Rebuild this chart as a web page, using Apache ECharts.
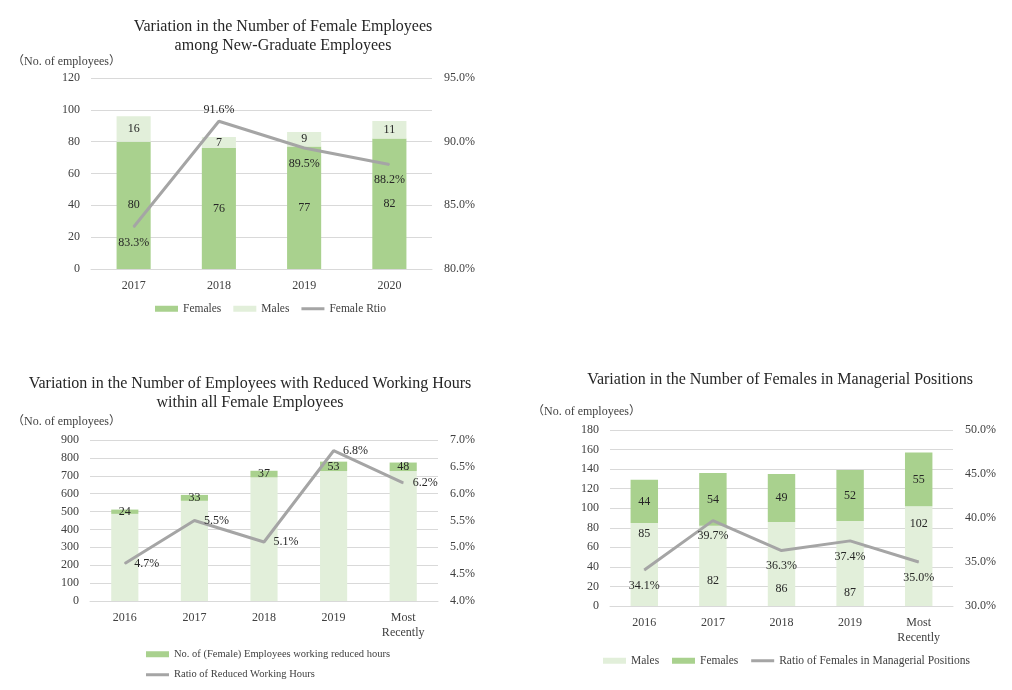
<!DOCTYPE html>
<html>
<head>
<meta charset="utf-8">
<script src="https://cdn.jsdelivr.net/npm/echarts@6/dist/echarts.min.js"></script>
<style>
html,body{margin:0;padding:0;background:#fff;}
#c{width:1012px;height:690px;}
</style>
</head>
<body>
<div id="c"></div>
<script>
// ---- Chart 1 data ----
const c1Categories = ['2017', '2018', '2019', '2020'];
const c1Females = [80, 76, 77, 82];
const c1Males = [16, 7, 9, 11];
const c1Ratio = [83.3, 91.6, 89.5, 88.2];

// ---- Chart 2 data ----
const c2Categories = ['2016', '2017', '2018', '2019', 'Most\nRecently'];
const c2Others = [487, 560, 691, 726, 726];
const c2Reduced = [24, 33, 37, 53, 48];
const c2Ratio = [4.7, 5.5, 5.1, 6.8, 6.2];

// ---- Chart 3 data ----
const c3Categories = ['2016', '2017', '2018', '2019', 'Most\nRecently'];
const c3Males = [85, 82, 86, 87, 102];
const c3Females = [44, 54, 49, 52, 55];
const c3Ratio = [34.1, 39.7, 36.3, 37.4, 35.0];

// label layout (not data)
const c1RatioLabelPos = ['bottom', 'top', 'bottom', 'bottom'];
const c3MalesLabelPos = [['insideTop', 5], ['insideBottom', 19], ['insideBottom', 11], ['insideBottom', 7], ['insideTop', 12]];

const FONT = "'Liberation Serif', 'Times New Roman', 'Noto Sans CJK JP', serif";
const TXT = '#404040';
const DARK = '#a9d18e';
const LIGHT = '#e2efda';
const GRAY = '#a5a5a5';
const GRID = '#d9d9d9';
const LINE_ICON = 'path://M0,0h23v3h-23z';

const chart = echarts.init(document.getElementById('c'));

function xAx(gridIndex, data) {
  return {
    type: 'category', gridIndex, data,
    axisLine: { lineStyle: { color: GRID, width: 1 } },
    axisTick: { show: false },
    axisLabel: { color: TXT, fontFamily: FONT, fontSize: 12, margin: 9, lineHeight: 15 }
  };
}
function yLeft(gridIndex, min, max, interval) {
  return {
    type: 'value', gridIndex, min, max, interval, position: 'left',
    axisLine: { show: false }, axisTick: { show: false },
    splitLine: { lineStyle: { color: GRID, width: 1 } },
    axisLabel: { color: TXT, fontFamily: FONT, fontSize: 12, margin: 11 }
  };
}
function yRight(gridIndex, min, max, interval) {
  return {
    type: 'value', gridIndex, min, max, interval, position: 'right',
    axisLine: { show: false }, axisTick: { show: false },
    splitLine: { show: false },
    axisLabel: { color: TXT, fontFamily: FONT, fontSize: 12, margin: 12,
      formatter: v => v.toFixed(1) + '%' }
  };
}
const lblStyle = { color: '#262626', fontFamily: FONT, fontSize: 12 };

const option = {
  animation: false,
  textStyle: { fontFamily: FONT },
  grid: [
    { left: 91, top: 78, width: 341, height: 191 },
    { left: 90, top: 440, width: 348, height: 161 },
    { left: 610, top: 430, width: 343, height: 176 }
  ],
  xAxis: [xAx(0, c1Categories), xAx(1, c2Categories), xAx(2, c3Categories)],
  yAxis: [
    yLeft(0, 0, 120, 20), yRight(0, 80, 95, 5),
    yLeft(1, 0, 900, 100), yRight(1, 4, 7, 0.5),
    yLeft(2, 0, 180, 20), yRight(2, 30, 50, 5)
  ],
  legend: [
    {
      left: 155, top: 303, padding: 0, itemWidth: 23, itemHeight: 6, itemGap: 12,
      textStyle: { color: TXT, fontFamily: FONT, fontSize: 11.5 },
      data: [{ name: 'Females', icon: 'rect' }, { name: 'Males', icon: 'rect' }, { name: 'Female Rtio', icon: LINE_ICON }]
    },
    {
      left: 146, top: 649, padding: 0, orient: 'vertical', itemWidth: 23, itemHeight: 6, itemGap: 10,
      textStyle: { color: TXT, fontFamily: FONT, fontSize: 10.5 },
      data: [{ name: 'No. of (Female) Employees working reduced hours', icon: 'rect' }, { name: 'Ratio of Reduced Working Hours', icon: LINE_ICON }]
    },
    {
      left: 603, top: 655, padding: 0, itemWidth: 23, itemHeight: 6, itemGap: 10,
      textStyle: { color: TXT, fontFamily: FONT, fontSize: 11.5 },
      data: [{ name: 'Males ', icon: 'rect' }, { name: 'Females ', icon: 'rect' }, { name: 'Ratio of Females in Managerial Positions', icon: LINE_ICON }]
    }
  ],
  graphic: [
    { type: 'text', x: 283, y: 17, style: { text: 'Variation in the Number of Female Employees\namong New-Graduate Employees', fill: '#262626', font: '16px ' + FONT, align: 'center', lineHeight: 19 } },
    { type: 'text', x: 12, y: 56, style: { text: '（No. of employees）', fill: TXT, font: '12px ' + FONT } },
    { type: 'text', x: 250, y: 374, style: { text: 'Variation in the Number of Employees with Reduced Working Hours\nwithin all Female Employees', fill: '#262626', font: '16px ' + FONT, align: 'center', lineHeight: 19 } },
    { type: 'text', x: 12, y: 416, style: { text: '（No. of employees）', fill: TXT, font: '12px ' + FONT } },
    { type: 'text', x: 780, y: 370, style: { text: 'Variation in the Number of Females in Managerial Positions', fill: '#262626', font: '16px ' + FONT, align: 'center', lineHeight: 19 } },
    { type: 'text', x: 532, y: 406, style: { text: '（No. of employees）', fill: TXT, font: '12px ' + FONT } }
  ],
  series: [
    // chart 1
    { name: 'Females', type: 'bar', xAxisIndex: 0, yAxisIndex: 0, stack: 's1', barWidth: '40%',
      data: c1Females, itemStyle: { color: DARK },
      label: Object.assign({ show: true, position: 'inside' }, lblStyle) },
    { name: 'Males', type: 'bar', xAxisIndex: 0, yAxisIndex: 0, stack: 's1', barWidth: '40%',
      data: c1Males, itemStyle: { color: LIGHT },
      label: Object.assign({ show: true, position: 'inside' }, lblStyle) },
    { name: 'Female Rtio', type: 'line', xAxisIndex: 0, yAxisIndex: 1,
      data: c1Ratio.map((v, i) => ({ value: v, label: { position: c1RatioLabelPos[i], distance: c1RatioLabelPos[i] === 'top' ? 5 : 9 } })),
      symbol: 'circle', symbolSize: 1, itemStyle: { color: GRAY }, lineStyle: { color: GRAY, width: 3 },
      label: Object.assign({ show: true, formatter: p => p.value.toFixed(1) + '%' }, lblStyle) },
    // chart 2
    { name: 'Others', type: 'bar', xAxisIndex: 1, yAxisIndex: 2, stack: 's2', barWidth: '39%',
      data: c2Others, itemStyle: { color: LIGHT } },
    { name: 'No. of (Female) Employees working reduced hours', type: 'bar', xAxisIndex: 1, yAxisIndex: 2, stack: 's2', barWidth: '39%',
      data: c2Reduced, itemStyle: { color: DARK },
      label: Object.assign({ show: true, position: 'inside' }, lblStyle) },
    { name: 'Ratio of Reduced Working Hours', type: 'line', xAxisIndex: 1, yAxisIndex: 3,
      data: c2Ratio, symbol: 'circle', symbolSize: 1, itemStyle: { color: GRAY }, lineStyle: { color: GRAY, width: 3 },
      label: Object.assign({ show: true, position: 'right', distance: 9, formatter: p => p.value.toFixed(1) + '%' }, lblStyle) },
    // chart 3
    { name: 'Males ', type: 'bar', xAxisIndex: 2, yAxisIndex: 4, stack: 's3', barWidth: '40%',
      data: c3Males.map((v, i) => ({ value: v, label: { position: c3MalesLabelPos[i][0], distance: c3MalesLabelPos[i][1] } })),
      itemStyle: { color: LIGHT },
      label: Object.assign({ show: true }, lblStyle) },
    { name: 'Females ', type: 'bar', xAxisIndex: 2, yAxisIndex: 4, stack: 's3', barWidth: '40%',
      data: c3Females, itemStyle: { color: DARK },
      label: Object.assign({ show: true, position: 'inside' }, lblStyle) },
    { name: 'Ratio of Females in Managerial Positions', type: 'line', xAxisIndex: 2, yAxisIndex: 5,
      data: c3Ratio, symbol: 'circle', symbolSize: 1, itemStyle: { color: GRAY }, lineStyle: { color: GRAY, width: 3 },
      label: Object.assign({ show: true, position: 'bottom', distance: 9, formatter: p => p.value.toFixed(1) + '%' }, lblStyle) }
  ]
};
chart.setOption(option);
</script>
</body>
</html>
